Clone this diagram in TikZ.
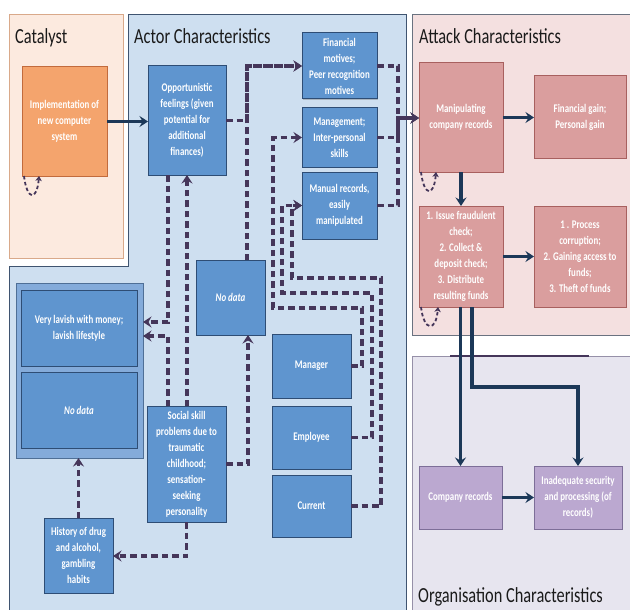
\documentclass[tikz,border=0pt]{standalone}
\usepackage{fontspec}
\setmainfont{Carlito}
\newfontfamily\narrowfont[FakeStretch=0.76]{Carlito}
\usetikzlibrary{arrows.meta,shadows,calc}

\definecolor{catfill}{HTML}{FCEADF}
\definecolor{catline}{HTML}{D9A98A}
\definecolor{actfill}{HTML}{CEDFF0}
\definecolor{actline}{HTML}{3F5470}
\definecolor{attfill}{HTML}{F4E0E0}
\definecolor{attline}{HTML}{6A7280}
\definecolor{orgfill}{HTML}{E7E5EF}
\definecolor{orgline}{HTML}{9690A8}
\definecolor{boxblue}{HTML}{5F95CF}
\definecolor{boxblueline}{HTML}{2E4D75}
\definecolor{grpblue}{HTML}{84ABDA}
\definecolor{grpline}{HTML}{4F6F96}
\definecolor{boxorange}{HTML}{F4A46D}
\definecolor{boxorangeline}{HTML}{C26B3D}
\definecolor{boxpink}{HTML}{DA9E9E}
\definecolor{boxpinkline}{HTML}{A8605F}
\definecolor{boxpurple}{HTML}{BBA8D0}
\definecolor{boxpurpleline}{HTML}{7D6E98}
\definecolor{dashpurple}{HTML}{45365A}
\definecolor{navy}{HTML}{1C3858}
\definecolor{titlegray}{HTML}{1A1A1A}

\newcommand\boxtext{\narrowfont\bfseries\fontsize{11.7}{16}\selectfont}
\newcommand\paneltitle{\narrowfont\fontsize{21.5}{24}\selectfont}

\tikzset{
  panel/.style={line width=1pt},
  title/.style={anchor=base west, inner sep=0pt, text=titlegray, font=\paneltitle},
  box/.style={draw, line width=1pt, inner sep=1pt, outer sep=0pt, align=center,
    text=white, font=\boxtext, anchor=north west,
    drop shadow={shadow xshift=1.3pt, shadow yshift=-1.3pt, opacity=0.35, fill=black!60}},
  bluebox/.style={box, fill=boxblue, draw=boxblueline},
  orangebox/.style={box, fill=boxorange, draw=boxorangeline},
  pinkbox/.style={box, fill=boxpink, draw=boxpinkline},
  purplebox/.style={box, fill=boxpurple, draw=boxpurpleline},
  groupbox/.style={draw=grpline, fill=grpblue, line width=1pt, anchor=north west,
    inner sep=0pt, outer sep=0pt,
    drop shadow={shadow xshift=1.3pt, shadow yshift=-1.3pt, opacity=0.3, fill=black!60}},
  solidconn/.style={draw=navy, line width=3.3pt, -{Stealth[length=8.5pt,width=11pt,inset=3pt]}},
  dashconn/.style={draw=dashpurple, line width=3.3pt, dash pattern=on 6.5pt off 4pt,
    -{Stealth[length=8.5pt,width=11pt,inset=3pt]}},
  loopconn/.style={draw=dashpurple, line width=1.8pt, dash pattern=on 3.5pt off 2.5pt,
    -{Stealth[length=5pt,width=6.5pt,inset=1.5pt]}},
}

\begin{document}
\begin{tikzpicture}[x=1pt,y=-1pt]
\useasboundingbox (0,0) rectangle (630,610);
\clip (0,0) rectangle (630,610);
\fill[white] (0,0) rectangle (630,610);

% ---------- panels ----------
\filldraw[panel, fill=catfill, draw=catline] (9,15) rectangle (123,258);
\filldraw[panel, fill=actfill, draw=actline]
  (128,15) -- (406,15) -- (406,620) -- (9,620) -- (9,266) -- (128,266) -- cycle;
\filldraw[panel, fill=attfill, draw=attline] (412,15) rectangle (640,335);
\filldraw[panel, fill=orgfill, draw=orgline] (412,356) rectangle (640,620);
\draw[draw=dashpurple, line width=1.8pt] (450,356) -- (589,356);

\node[title] (tcat) at (15,44) {Catalyst};
\node[title] (tact) at (134,44) {Actor Characteristics};
\node[title] (tatt) at (419,44) {Attack Characteristics};
\node[title] (torg) at (418,602) {Organisation Characteristics};

% ---------- catalyst ----------
\node[orangebox, minimum width=85pt, minimum height=109pt] (impl) at (22,67)
  {Implementation of\\new computer\\system};

% ---------- actor characteristics ----------
\node[bluebox, minimum width=78pt, minimum height=109pt] (opp) at (148,66)
  {Opportunistic\\feelings (given\\potential for\\additional\\finances)};
\node[bluebox, minimum width=75pt, minimum height=66pt] (finm) at (302,33)
  {Financial\\motives;\\Peer recognition\\motives};
\node[bluebox, minimum width=75pt, minimum height=59pt] (mgmt) at (302,108)
  {Management;\\Inter-personal\\skills};
\node[bluebox, minimum width=75pt, minimum height=67pt] (manual) at (302,172)
  {Manual records,\\easily\\manipulated};
\node[bluebox, minimum width=69pt, minimum height=75pt] (nodata) at (196,260)
  {\itshape No data};

\node[groupbox, minimum width=127pt, minimum height=175pt] (group) at (16,283) {};
\node[bluebox, minimum width=116pt, minimum height=76pt] (lavish) at (21,290)
  {Very lavish with money;\\lavish lifestyle};
\node[bluebox, minimum width=116pt, minimum height=76pt] (nodatab) at (21,372)
  {\itshape No data};

\node[bluebox, minimum width=79pt, minimum height=116pt] (social) at (147,406)
  {Social skill\\problems due to\\traumatic\\childhood;\\sensation-\\seeking\\personality};
\node[bluebox, minimum width=69pt, minimum height=75pt] (history) at (44,518)
  {History of drug\\and alcohol,\\gambling\\habits};
\node[bluebox, minimum width=79pt, minimum height=64pt] (manager) at (272,334) {Manager};
\node[bluebox, minimum width=79pt, minimum height=63pt] (employee) at (272,406) {Employee};
\node[bluebox, minimum width=79pt, minimum height=62pt] (current) at (272,475) {Current};

% ---------- attack characteristics ----------
\node[pinkbox, minimum width=84pt, minimum height=109pt] (manip) at (419,63)
  {Manipulating\\company records};
\node[pinkbox, minimum width=92pt, minimum height=82pt] (fgain) at (534,76)
  {Financial gain;\\Personal gain};
\node[pinkbox, minimum width=84pt, minimum height=101pt] (issue) at (419,206)
  {1. Issue fraudulent\\check;\\2. Collect \&\\deposit check;\\3. Distribute\\resulting funds};
\node[pinkbox, minimum width=92pt, minimum height=101pt] (proc) at (534,206)
  {1 . Process\\corruption;\\2. Gaining access to\\funds;\\3. Theft of funds};

% ---------- organisation characteristics ----------
\node[purplebox, minimum width=83pt, minimum height=63pt] (compr) at (419,466)
  {Company records};
\node[purplebox, minimum width=88pt, minimum height=63pt] (inad) at (534,466)
  {Inadequate security\\and processing (of\\records)};

% ---------- solid connectors ----------
\draw[solidconn] (impl.east) -- (impl.east -| opp.west);
\draw[solidconn] (manip.east) -- (manip.east -| fgain.west);
\draw[solidconn] (manip.south) -- (issue.north);
\draw[solidconn] (issue.east) -- (issue.east -| proc.west);
\draw[solidconn] (issue.south -| compr.north) -- (compr.north);
\draw[solidconn] (472,0 |- issue.south) -- (472,387) -- (inad.north |- 0,387) -- (inad.north);
\draw[solidconn] (compr.east) -- (compr.east -| inad.west);

% ---------- dashed connectors ----------
\draw[dashconn] (opp.east) -- (247,0 |- opp.east) -- (247,0 |- finm.west) -- (finm.west);
\draw[dashconn] (247,0 |- nodata.north) -- (247,0 |- finm.west) -- (finm.west);
\draw[dashconn] (finm.east) -- (398,0 |- finm.east) -- (398,118) -- (manip.west |- 0,118);
\draw[dashconn] (mgmt.east) -- (398,0 |- mgmt.east) -- (398,118) -- (manip.west |- 0,118);
\draw[dashconn] (manual.east) -- (398,0 |- manual.east) -- (398,118) -- (manip.west |- 0,118);
\draw[dashconn] (manager.east) -- (362,0 |- manager.east) -- (362,308) -- (273,308)
  -- (273,0 |- mgmt.west) -- (mgmt.west);
\draw[dashconn] (employee.east) -- (372,0 |- employee.east) -- (372,293) -- (282,293)
  -- (282,0 |- manual.west) -- (manual.west);
\draw[dashconn] (current.east) -- (381,0 |- current.east) -- (381,278) -- (292,278)
  -- (292,209) -- (292,0 |- manual.west) -- (manual.west);
\draw[dashconn] (168,0 |- opp.south) -- (168,322) -- (group.east |- 0,322);
\draw[dashconn] (168,0 |- social.north) -- (168,336) -- (group.east |- 0,336);
\draw[dashconn] (social.north -| opp.south) -- (opp.south);
\draw[dashconn] (social.east) -- (248,0 |- social.east) -- (248,0 |- nodata.south);
\draw[dashconn] (social.south) -- (social.south |- 0,556) -- (history.east |- 0,556);
\draw[dashconn] (history.north) -- (history.north |- group.south);

% ---------- self loops ----------
\draw[loopconn] ([xshift=2pt]impl.south west) .. controls +(3,25) and +(-2,25) .. ([xshift=17pt]impl.south west);
\draw[loopconn] ([xshift=2pt]manip.south west) .. controls +(3,25) and +(-2,25) .. ([xshift=17pt]manip.south west);
\draw[loopconn] ([xshift=2pt]issue.south west) .. controls +(3,25) and +(-2,25) .. ([xshift=19pt]issue.south west);
\end{tikzpicture}
\end{document}
